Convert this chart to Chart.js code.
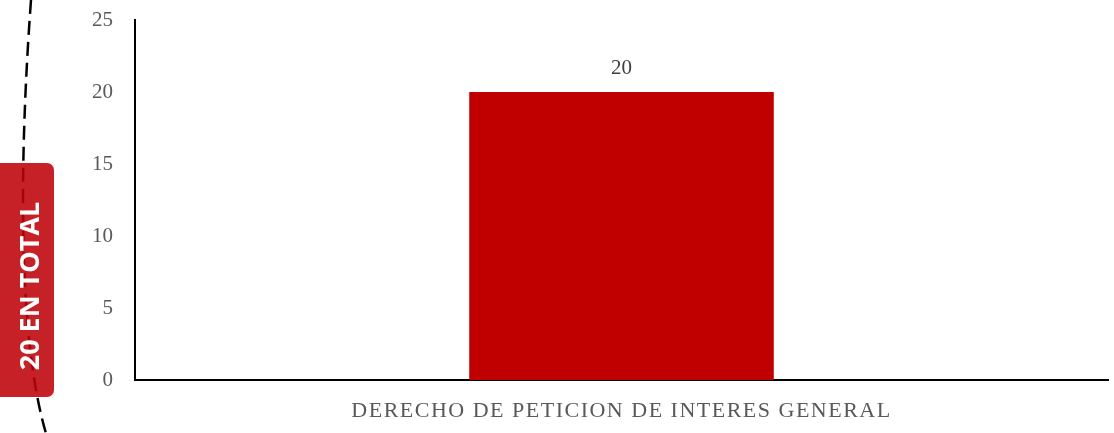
<!DOCTYPE html>
<html>
<head>
<meta charset="utf-8">
<script src="https://cdn.jsdelivr.net/npm/chart.js@4/dist/chart.umd.min.js"></script>
<style>
  html, body { margin: 0; padding: 0; background: #fff; }
  #wrap { width: 1114px; height: 433px; position: relative; }
</style>
</head>
<body>
<div id="wrap"><canvas id="barChart"></canvas></div>
<script>
const categories = ['DERECHO DE PETICION DE INTERES GENERAL'];
const counts = [20];
const totalText = '20 EN TOTAL';
const yMax = 25;
const yStep = 5;

const serif = '"Liberation Serif", "DejaVu Serif", serif';

// wider lettering for the category text only (y tick labels are drawn after the datasets)
const spacing = {
  id: 'spacing',
  beforeDraw(chart) { chart.ctx.letterSpacing = '1.5px'; },
  beforeDatasetsDraw(chart) { chart.ctx.letterSpacing = '0px'; }
};

// red badge and dashed arc on the left side
const sideDecor = {
  id: 'sideDecor',
  afterDraw(chart) {
    const c = chart.ctx;
    c.save();
    c.letterSpacing = '0px';
    c.setLineDash([14, 7]);
    c.lineWidth = 2.5;
    c.strokeStyle = '#000';
    c.beginPath();
    c.moveTo(31, 0);
    c.bezierCurveTo(20, 150, 16, 340, 48, 440);
    c.stroke();
    c.setLineDash([]);

    c.globalAlpha = 0.88;
    c.fillStyle = 'rgb(190,2,8)';
    c.beginPath();
    c.roundRect(-8, 163, 62, 234, 7);
    c.fill();
    c.globalAlpha = 1;

    c.translate(31, 286);
    c.rotate(-Math.PI / 2);
    c.fillStyle = '#fff';
    c.font = 'bold 27px "Open Sans", Lato, sans-serif';
    c.textAlign = 'center';
    c.textBaseline = 'middle';
    c.fillText(totalText, 0, 0);
    c.restore();
  }
};

const valueLabels = {
  id: 'valueLabels',
  afterDatasetsDraw(chart) {
    const c = chart.ctx;
    const meta = chart.getDatasetMeta(0);
    c.save();
    c.letterSpacing = '0px';
    c.font = '21px ' + serif;
    c.fillStyle = '#404040';
    c.textAlign = 'center';
    c.textBaseline = 'middle';
    meta.data.forEach((bar, i) => {
      c.fillText(String(counts[i]), bar.x, bar.y - 24);
    });
    c.restore();
  }
};

var ctx = document.getElementById('barChart').getContext('2d');
new Chart(ctx, {
  type: 'bar',
  data: {
    labels: categories,
    datasets: [{
      data: counts,
      backgroundColor: '#C00000',
      barPercentage: 0.313,
      categoryPercentage: 1.0
    }]
  },
  options: {
    responsive: true,
    maintainAspectRatio: false,
    animation: false,
    layout: { padding: { top: 20, right: 6, left: 0, bottom: 0 } },
    plugins: {
      legend: { display: false },
      tooltip: { enabled: false }
    },
    scales: {
      x: {
        grid: { display: false, drawTicks: false },
        border: { display: true, color: '#000', width: 2 },
        ticks: {
          padding: 18,
          color: '#595959',
          font: { family: serif, size: 22 }
        },
        afterFit: s => { s.height = 53; }
      },
      y: {
        min: 0,
        max: yMax,
        grid: { display: false, drawTicks: true, tickLength: 19 },
        border: { display: true, color: '#000', width: 2 },
        ticks: {
          z: 1,
          stepSize: yStep,
          padding: 3,
          color: '#595959',
          font: { family: serif, size: 21 }
        },
        afterFit: s => { s.width = 135; }
      }
    }
  },
  plugins: [spacing, sideDecor, valueLabels]
});
</script>
</body>
</html>
